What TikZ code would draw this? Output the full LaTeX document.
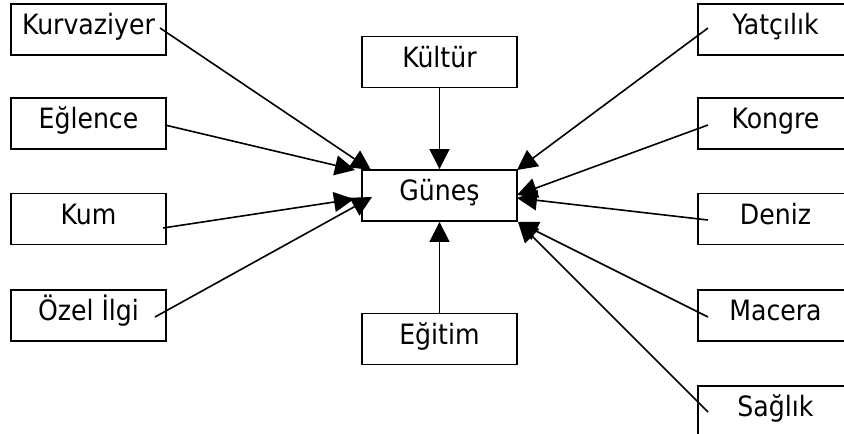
\documentclass[tikz,border=0pt]{standalone}
\usepackage{fontspec}
\setmainfont{DejaVu Sans Condensed}
\usetikzlibrary{arrows.meta}
\begin{document}
\begin{tikzpicture}[x=1pt,y=-1pt,
  box/.style={draw=black, line width=1.9pt, rectangle, inner sep=0pt,
    minimum width=155pt, minimum height=51pt, text height=20pt, text depth=10pt,
    font=\fontsize{28}{33}\selectfont},
  link/.style={draw=black, line width=1.6pt, -{Triangle[length=20pt,width=20pt]}}]
\useasboundingbox (0,0) rectangle (844,434);
\fill[white] (0,0) rectangle (844,434);
\clip (0,0) rectangle (844,434);
% left column
\node[box] (kurv) at (88.5,29.5) {Kurvaziyer};
\node[box] (eglence) at (88.5,123.5) {Eğlence};
\node[box] (kum) at (88.5,219) {Kum};
\node[box] (ozel) at (88.5,315.5) {Özel İlgi};
% centre column
\node[box] (kultur) at (439.5,62) {Kültür};
\node[box] (gunes) at (439.5,195.5) {Güneş};
\node[box] (egitim) at (439.5,339) {Eğitim};
% right column
\node[box] (yat) at (775.5,29.5) {Yatçılık};
\node[box] (kongre) at (775.5,123.5) {Kongre};
\node[box] (deniz) at (775.5,219) {Deniz};
\node[box] (macera) at (775.5,315.5) {Macera};
\node[box] (saglik) at (775.5,411.5) {Sağlık};
% connector start points (inside the boxes, at the text)
\coordinate (kurvS) at (160,28);
\coordinate (eglS) at (165,125);
\coordinate (kumS) at (163,228);
\coordinate (ozelS) at (155,317);
\coordinate (yatS) at (708,28);
\coordinate (kongS) at (708,125);
\coordinate (denS) at (708,220);
\coordinate (macS) at (708,317);
\coordinate (sagS) at (708,412);
% connector end points at Güneş
\coordinate (kurvE) at (371,170);
\coordinate (eglE) at (355,170);
\coordinate (kumE) at (354,199);
\coordinate (ozelE) at (372,197);
\coordinate (yatE) at (517,170);
\coordinate (kongE) at (517,195);
\coordinate (denE) at (517,198);
\coordinate (macE) at (518,222);
\coordinate (sagE) at (518,222);
% connectors
\draw[link] (kultur.south) -- (gunes.north);
\draw[link] (egitim.north) -- (gunes.south);
\draw[link] (kurvS) -- (kurvE);
\draw[link] (eglS) -- (eglE);
\draw[link] (kumS) -- (kumE);
\draw[link] (ozelS) -- (ozelE);
\draw[link] (yatS) -- (yatE);
\draw[link] (kongS) -- (kongE);
\draw[link] (denS) -- (denE);
\draw[link] (macS) -- (macE);
\draw[link] (sagS) -- (sagE);
\end{tikzpicture}
\end{document}
